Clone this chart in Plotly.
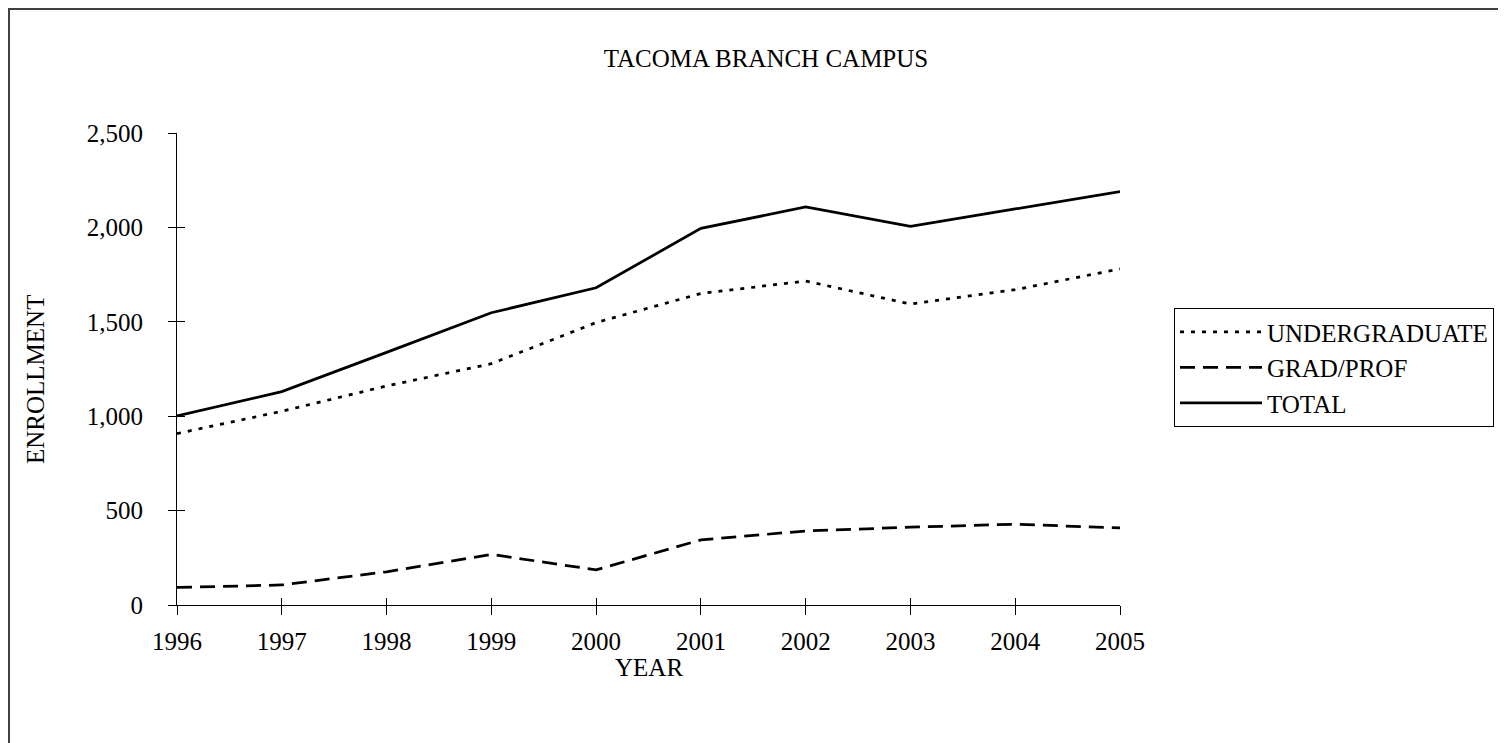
import plotly.graph_objects as go

years = [1996, 1997, 1998, 1999, 2000, 2001, 2002, 2003, 2004, 2005]
undergraduate = [908, 1026, 1160, 1278, 1496, 1650, 1716, 1594, 1670, 1780]
grad_prof = [93, 106, 176, 268, 186, 345, 392, 412, 428, 408]
total = [1001, 1130, 1338, 1548, 1680, 1995, 2108, 2006, 2098, 2190]

FONT = "Liberation Serif, Times New Roman, serif"

fig = go.Figure()
fig.add_trace(go.Scatter(x=years, y=undergraduate, name="UNDERGRADUATE", mode="lines",
                         legendgroup="u",
                         line=dict(color="black", width=2.75, dash="4px,7px")))
fig.add_trace(go.Scatter(x=years, y=grad_prof, name="GRAD/PROF", mode="lines",
                         legendgroup="g",
                         line=dict(color="black", width=2.75, dash="15px,8px")))
fig.add_trace(go.Scatter(x=years, y=total, name="TOTAL", mode="lines",
                         legendgroup="t",
                         line=dict(color="black", width=2.75)))
# empty trace so the overlaid axes (inner half of the crossing ticks) get drawn
fig.add_trace(go.Scatter(x=years, y=total, mode="none", xaxis="x2", yaxis="y2",
                         showlegend=False, hoverinfo="skip"))

# page body has an 8px margin, so the figure is 8px smaller and margins shifted
fig.update_layout(
    width=1498, height=735,
    margin=dict(l=169, r=386, t=125, b=138),
    paper_bgcolor="white", plot_bgcolor="white",
    font=dict(family=FONT, size=25, color="black"),
    title=dict(text="TACOMA BRANCH CAMPUS", x=758 / 1498, xref="container", xanchor="center",
               y=1 - 50.5 / 735, yref="container", yanchor="middle",
               font=dict(size=25)),
    xaxis=dict(range=[1996, 2005], tickvals=years, showgrid=False, zeroline=False,
               showline=True, linecolor="black", linewidth=1,
               ticks="outside", ticklen=9, tickcolor="black", ticklabelstandoff=5),
    yaxis=dict(range=[0, 2500], dtick=500, tickformat=",", showgrid=False, zeroline=False,
               showline=True, linecolor="black", linewidth=1,
               ticks="outside", ticklen=8, tickcolor="black", ticklabelstandoff=20),
    xaxis2=dict(overlaying="x", matches="x", anchor="y", tickvals=years, showgrid=False,
                zeroline=False, showticklabels=False, ticks="inside", ticklen=7,
                tickcolor="black"),
    yaxis2=dict(overlaying="y", matches="y", anchor="x", dtick=500, showgrid=False,
                zeroline=False, showticklabels=False, ticks="inside", ticklen=8,
                tickcolor="black"),
    legend=dict(x=(1174 - 177) / 943, y=(605 - 308) / 472, xanchor="left", yanchor="top",
                bordercolor="black", borderwidth=1, bgcolor="white",
                font=dict(size=25), tracegroupgap=0, itemwidth=82),
    showlegend=True,
    annotations=[
        dict(text="ENROLLMENT", textangle=-90, xref="paper", yref="paper",
             x=(27 - 169) / 943, y=(597 - 372) / 472,
             xanchor="center", yanchor="middle", showarrow=False, font=dict(size=25)),
        dict(text="YEAR", xref="paper", yref="paper",
             x=0.5, y=(597 - 659) / 472,
             xanchor="center", yanchor="middle", showarrow=False, font=dict(size=25)),
    ],
    shapes=[dict(type="rect", xref="paper", yref="paper",
                 x0=(1 - 169) / 943, x1=2.0, y0=-1.0, y1=(597 - 1) / 472,
                 line=dict(color="#404040", width=2), fillcolor="rgba(0,0,0,0)",
                 layer="below")],
)

fig.write_html("out.html")
